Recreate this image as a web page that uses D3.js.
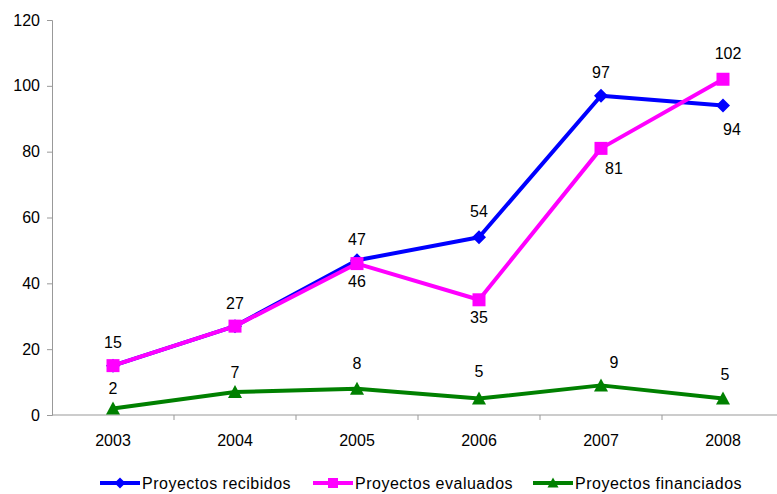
<!DOCTYPE html>
<html>
<head>
<meta charset="utf-8">
<script src="https://cdn.jsdelivr.net/npm/d3@7"></script>
<style>
  body { margin: 0; background: #fff; }
  svg { display: block; font-family: "Liberation Sans", Arial, sans-serif; }
</style>
</head>
<body>
<div id="plot"></div>
<script>
// ----- DATA ------------------------//
const years = ["2003", "2004", "2005", "2006", "2007", "2008"];
const recibidos = [15, 27, 47, 54, 97, 94];
const evaluados = [15, 27, 46, 35, 81, 102];
const financiados = [2, 7, 8, 5, 9, 5];
const yTicks = [0, 20, 40, 60, 80, 100, 120];

const width = 777;
const height = 494;

const svg = d3.select("#plot").append("svg")
    .attr("width", width)
    .attr("height", height);

// scales
const xScl = d3.scaleBand().domain(years).range([52, 784]);
const yScl = d3.scaleLinear().domain([0, 120]).range([415, 20]);

// label placement: dy offset from point (null = no label), dx nudge
const series = [
    { name: "Proyectos recibidos", values: recibidos, color: "#0000ff", marker: "diamond",
      dy: [-23, -23, -21, -26, -23, 24], dx: [0, 0, 0, 0, 0, 9] },
    { name: "Proyectos evaluados", values: evaluados, color: "#ff00ff", marker: "square",
      dy: [null, null, 18, 18, 20, -26], dx: [0, 0, 0, 0, 13, 5] },
    { name: "Proyectos financiados", values: financiados, color: "#008000", marker: "triangle",
      dy: [-20, -20, -25, -27, -23, -24], dx: [0, 0, 0, 0, 13, 2] }
];

const xc = d => xScl(d) + xScl.bandwidth() / 2;

// axes
const yAxis = d3.axisLeft(yScl).tickValues(yTicks).tickSizeOuter(0).tickSize(5).tickPadding(7);
const gy = svg.append("g").attr("transform", "translate(52,0)").call(yAxis);
gy.select(".domain").attr("stroke", "#999");
gy.selectAll(".tick line").attr("stroke", "#999");
gy.selectAll(".tick text").attr("font-size", 16).attr("fill", "#000")
    .attr("font-family", "Liberation Sans, Arial, sans-serif");

const gx = svg.append("g").attr("transform", "translate(0,415)");
gx.append("line").attr("x1", 52).attr("x2", 784).attr("stroke", "#999");
gx.selectAll("line.tk").data(years.slice(1)).enter().append("line")
    .attr("class", "tk")
    .attr("x1", d => xScl(d)).attr("x2", d => xScl(d))
    .attr("y1", 0).attr("y2", 5).attr("stroke", "#999");
gx.selectAll("text").data(years).enter().append("text")
    .attr("x", xc).attr("y", 31)
    .attr("text-anchor", "middle")
    .attr("font-size", 16)
    .text(d => d);

// markers
function marker(g, type, color, s) {
    if (type === "diamond") {
        g.append("path").attr("d", `M0,${-s}L${s},0L0,${s}L${-s},0Z`).attr("fill", color);
    } else if (type === "square") {
        g.append("rect").attr("x", -s + 0.5).attr("y", -s + 0.5)
            .attr("width", 2 * s - 1).attr("height", 2 * s - 1).attr("fill", color);
    } else {
        g.append("path").attr("d", `M0,${-s}L${s},${s - 1}L${-s},${s - 1}Z`).attr("fill", color);
    }
}

const line = d3.line()
    .x((d, i) => xc(years[i]))
    .y(d => yScl(d));

series.forEach(s => {
    svg.append("path")
        .attr("d", line(s.values))
        .attr("fill", "none")
        .attr("stroke", s.color)
        .attr("stroke-width", 4)
        .attr("stroke-linejoin", "round");
    s.values.forEach((v, i) => {
        const g = svg.append("g").attr("transform", `translate(${xc(years[i])},${yScl(v)})`);
        marker(g, s.marker, s.color, 7);
    });
});

// data labels
series.forEach(s => {
    s.values.forEach((v, i) => {
        if (s.dy[i] === null) return;
        svg.append("text")
            .attr("x", xc(years[i]) + s.dx[i])
            .attr("y", yScl(v) + s.dy[i])
            .attr("dy", "0.35em")
            .attr("text-anchor", "middle")
            .attr("font-size", 16)
            .text(v);
    });
});

// legend
const legX = [100, 313, 533];
series.forEach((s, i) => {
    const g = svg.append("g").attr("transform", `translate(${legX[i]},483)`);
    g.append("line").attr("x1", 0).attr("x2", 40).attr("stroke", s.color).attr("stroke-width", 4);
    const m = g.append("g").attr("transform", "translate(20,0)");
    marker(m, s.marker, s.color, 5.5);
    g.append("text").attr("x", 42).attr("dy", "0.35em")
        .attr("font-size", 16).attr("letter-spacing", "0.5px")
        .text(s.name);
});
</script>
</body>
</html>
